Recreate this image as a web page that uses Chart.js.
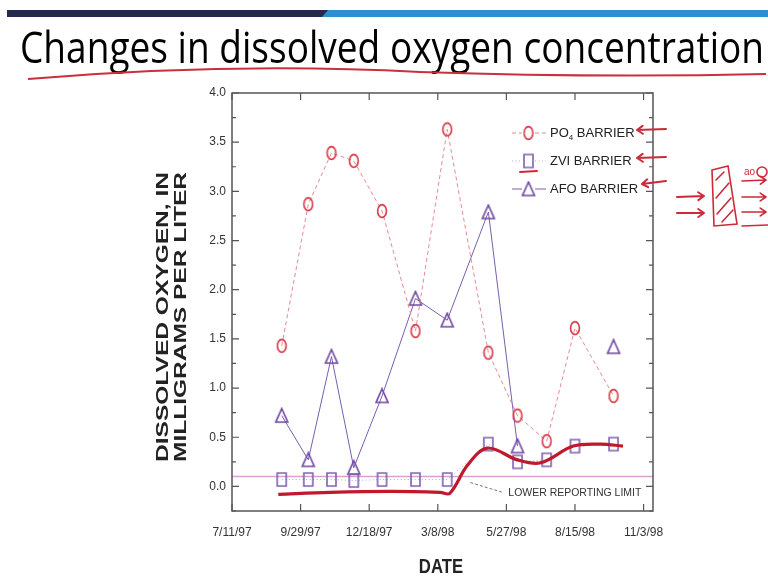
<!DOCTYPE html>
<html><head><meta charset="utf-8">
<script src="https://cdn.jsdelivr.net/npm/chart.js@4.4.0/dist/chart.umd.min.js"></script>
<style>html,body{margin:0;padding:0;background:#fff;}#wrap{width:768px;height:578px;position:relative;}</style>
</head><body><div id="wrap"><canvas id="c" width="768" height="578"></canvas></div>
<script>
// ---- data ----
const sampleDates = ['1997-09-07','1997-10-08','1997-11-04','1997-11-30','1998-01-02','1998-02-10','1998-03-19','1998-05-06','1998-06-09','1998-07-13','1998-08-15','1998-09-29'];
const po4Values = [1.43, 2.87, 3.39, 3.31, 2.80, 1.58, 3.63, 1.36, 0.72, 0.46, 1.61, 0.92];
const zviValues = [0.07, 0.07, 0.07, 0.06, 0.07, 0.07, 0.07, 0.43, 0.25, 0.27, 0.41, 0.43];
// AFO has no sample plotted on 1998-07-13, so its line breaks there
const afoDates = ['1997-09-07','1997-10-08','1997-11-04','1997-11-30','1998-01-02','1998-02-10','1998-03-19','1998-05-06','1998-06-09','1998-07-13','1998-09-29'];
const afoValues = [0.72, 0.27, 1.32, 0.19, 0.92, 1.91, 1.69, 2.79, 0.41, null, 1.42];
const lowerReportingLimit = 0.1;
const xTickLabels = ['7/11/97','9/29/97','12/18/97','3/8/98','5/27/98','8/15/98','11/3/98'];
const xAxisEnd = '1998-11-14';
const yMin = -0.25, yMax = 4.0, yStep = 0.5;
// hand-drawn red annotation tracing the ZVI series
const annotationDates = ['1997-09-03','1997-11-02','1998-01-12','1998-03-11','1998-03-22','1998-04-12','1998-05-05','1998-06-09','1998-07-06','1998-08-13','1998-09-14','1998-10-10'];
const annotationValues = [-0.08, -0.06, -0.05, -0.06, -0.07, 0.22, 0.39, 0.27, 0.24, 0.41, 0.43, 0.41];

// ---- helpers ----
function utc(s){
  if (s.indexOf('/') >= 0){ const [m,d,y] = s.split('/').map(Number); return Date.UTC(1900+y, m-1, d); }
  const [y,m,d] = s.split('-').map(Number); return Date.UTC(y, m-1, d);
}
const origin = utc(xTickLabels[0]);
const dayOf = s => Math.round((utc(s) - origin) / 86400000);
const pts = (dates, vals) => dates.map((d,i) => ({x: dayOf(d), y: vals[i]}));

const RED = '#d83a47', RED_LINE = '#e58b93', PURPLE = '#6d45a0', PURPLE_SQ = '#8060b0', PURPLE_DOT = '#b8a4d6';
function makeMarker(kind, color){
  const c = document.createElement('canvas');
  let w, h;
  if (kind === 'circle'){ w = 12; h = 16; } else if (kind === 'square'){ w = 13; h = 17; } else { w = 16; h = 17; }
  c.width = w; c.height = h;
  const g = c.getContext('2d'); g.strokeStyle = color; g.lineWidth = 1.6; g.beginPath();
  if (kind === 'circle') g.ellipse(w/2, h/2, 4.4, 6.4, 0, 0, Math.PI*2);
  else if (kind === 'square') g.rect(2, 2, 9, 13);
  else { g.moveTo(w/2, 1.5); g.lineTo(w-2, h-2); g.lineTo(2, h-2); g.closePath(); }
  g.stroke();
  return c;
}
const mkCircle = makeMarker('circle', RED), mkSquare = makeMarker('square', PURPLE_SQ), mkTri = makeMarker('tri', PURPLE);

const decorPlugin = {
  id: 'decor',
  beforeDraw(chart){
    const ctx = chart.ctx; ctx.save();
    ctx.fillStyle = '#fff'; ctx.fillRect(0, 0, chart.width, chart.height);
    // header bar
    ctx.fillStyle = '#2e8fd0'; ctx.fillRect(318, 10, 450, 7);
    ctx.fillStyle = '#262850'; ctx.beginPath(); ctx.moveTo(7,10); ctx.lineTo(328,10); ctx.lineTo(322,17); ctx.lineTo(7,17); ctx.closePath(); ctx.fill();
    // slide title
    ctx.fillStyle = '#000'; ctx.font = '44px "Open Sans", "Liberation Sans", sans-serif'; ctx.textBaseline = 'alphabetic'; ctx.textAlign = 'left';
    ctx.fillText('Changes in dissolved oxygen concentration', 20, 63, 744);
    // red handwritten underline
    ctx.strokeStyle = '#c8303e'; ctx.lineWidth = 2; ctx.beginPath();
    ctx.moveTo(28, 79); ctx.quadraticCurveTo(230, 62, 420, 72); ctx.quadraticCurveTo(600, 78, 766, 74); ctx.stroke();
    // y title
    ctx.fillStyle = '#222'; ctx.font = 'bold 17px "Liberation Sans", Arial, sans-serif'; ctx.textAlign = 'center'; ctx.textBaseline = 'middle';
    [['DISSOLVED OXYGEN, IN', 163], ['MILLIGRAMS PER LITER', 181]].forEach(([t, x]) => {
      ctx.save(); ctx.translate(x, 317); ctx.rotate(-Math.PI/2);
      const w = ctx.measureText(t).width; ctx.scale(290 / w, 1); ctx.fillText(t, 0, 0); ctx.restore();
    });
    // x title
    ctx.save(); ctx.font = 'bold 19px "Liberation Sans", Arial, sans-serif'; ctx.textBaseline = 'alphabetic'; ctx.textAlign = 'center';
    ctx.translate(441, 573); ctx.scale(0.88, 1.08); ctx.fillText('DATE', 0, 0); ctx.restore();
    ctx.restore();
  },
  beforeDatasetsDraw(chart){
    const ctx = chart.ctx, a = chart.chartArea, y = chart.scales.y, x = chart.scales.x;
    const py = y.getPixelForValue(lowerReportingLimit);
    ctx.save(); ctx.strokeStyle = '#d9a0d2'; ctx.lineWidth = 1.5;
    ctx.beginPath(); ctx.moveTo(a.left, py); ctx.lineTo(a.right, py); ctx.stroke();
    // leader + label
    const lx = x.getPixelForValue(dayOf('1998-04-15'));
    ctx.strokeStyle = '#777'; ctx.lineWidth = 1; ctx.setLineDash([3,2]);
    ctx.beginPath(); ctx.moveTo(lx, py + 6); ctx.lineTo(lx + 33, py + 16); ctx.stroke(); ctx.setLineDash([]);
    ctx.fillStyle = '#333'; ctx.font = '11.5px "Liberation Sans", Arial, sans-serif'; ctx.textBaseline = 'middle'; ctx.textAlign = 'left';
    ctx.fillText('LOWER REPORTING LIMIT', lx + 38, py + 16, 133);
    ctx.restore();
  },
  afterDraw(chart){
    const ctx = chart.ctx, a = chart.chartArea, xs = chart.scales.x, ys = chart.scales.y;
    ctx.save();
    ctx.strokeStyle = '#555'; ctx.lineWidth = 1.5;
    ctx.strokeRect(a.left, a.top, a.right - a.left, a.bottom - a.top);
    ctx.lineWidth = 1.2; ctx.beginPath();
    xs.ticks.forEach(t => { const p = xs.getPixelForValue(t.value);
      ctx.moveTo(p, a.bottom); ctx.lineTo(p, a.bottom - 7); ctx.moveTo(p, a.top); ctx.lineTo(p, a.top + 7); });
    const yt = ys.ticks.map(t => t.value);
    const marks = [];
    yt.forEach((v, i) => { marks.push([v, 7]); if (i > 0) marks.push([(v + yt[i-1]) / 2, 4]); });
    if (yt.length) marks.push([yt[0] - (yt[1] - yt[0]) / 2, 4]);
    marks.forEach(([v, len]) => { if (v < ys.min - 1e-9 || v > ys.max + 1e-9) return; const p = ys.getPixelForValue(v);
      ctx.moveTo(a.left, p); ctx.lineTo(a.left + len, p); ctx.moveTo(a.right, p); ctx.lineTo(a.right - len, p); });
    ctx.stroke();
    // legend
    const rows = [
      {y: 133, color: RED_LINE, dash: [4,3], mk: mkCircle, label: ['PO', '4', ' BARRIER']},
      {y: 161, color: PURPLE_DOT, dash: [1,2.5], mk: mkSquare, label: ['ZVI BARRIER']},
      {y: 189, color: '#7a5fb0', dash: [], mk: mkTri, label: ['AFO BARRIER']}
    ];
    ctx.font = '13px "Liberation Sans", Arial, sans-serif'; ctx.textBaseline = 'middle'; ctx.textAlign = 'left';
    rows.forEach(r => {
      ctx.strokeStyle = r.color; ctx.lineWidth = 1; ctx.setLineDash(r.dash);
      ctx.beginPath(); ctx.moveTo(512, r.y); ctx.lineTo(522, r.y); ctx.moveTo(535, r.y); ctx.lineTo(546, r.y); ctx.stroke(); ctx.setLineDash([]);
      ctx.drawImage(r.mk, 528.5 - r.mk.width/2, r.y - r.mk.height/2);
      ctx.fillStyle = '#222';
      let x = 550;
      if (r.label.length === 3){
        ctx.fillText(r.label[0], x, r.y); x += ctx.measureText(r.label[0]).width;
        ctx.font = '8px "Liberation Sans", Arial, sans-serif'; ctx.fillText(r.label[1], x, r.y + 5); x += ctx.measureText(r.label[1]).width;
        ctx.font = '13px "Liberation Sans", Arial, sans-serif'; ctx.fillText(r.label[2], x, r.y);
      } else ctx.fillText(r.label[0], x, r.y);
    });
    // red handwritten arrows and doodles
    ctx.strokeStyle = '#cc2a3a'; ctx.lineWidth = 2; ctx.lineCap = 'round';
    const arrow = (x1, y1, x2, y2) => { ctx.beginPath(); ctx.moveTo(x1, y1); ctx.lineTo(x2, y2);
      const ang = Math.atan2(y2 - y1, x2 - x1);
      ctx.moveTo(x2, y2); ctx.lineTo(x2 - 7*Math.cos(ang - 0.6), y2 - 7*Math.sin(ang - 0.6));
      ctx.moveTo(x2, y2); ctx.lineTo(x2 - 7*Math.cos(ang + 0.6), y2 - 7*Math.sin(ang + 0.6)); ctx.stroke(); };
    arrow(666, 129, 637, 130); arrow(666, 157, 637, 158); arrow(666, 181, 642, 184);
    ctx.beginPath(); ctx.moveTo(520, 172); ctx.lineTo(537, 171); ctx.stroke();
    arrow(677, 197, 704, 196); arrow(677, 213, 704, 213);
    ctx.lineWidth = 1.6; ctx.beginPath();
    ctx.moveTo(712, 170); ctx.lineTo(728, 166); ctx.lineTo(737, 224); ctx.lineTo(714, 226); ctx.closePath(); ctx.stroke();
    ctx.beginPath(); ctx.moveTo(716, 180); ctx.lineTo(724, 172); ctx.moveTo(716, 198); ctx.lineTo(729, 183);
    ctx.moveTo(717, 214); ctx.lineTo(731, 198); ctx.moveTo(722, 222); ctx.lineTo(733, 210); ctx.stroke();
    arrow(742, 181, 766, 180); arrow(742, 197, 766, 197); arrow(742, 212, 766, 212);
    ctx.beginPath(); ctx.moveTo(742, 226); ctx.lineTo(768, 225); ctx.stroke();
    ctx.font = '10px "Liberation Sans", Arial, sans-serif'; ctx.fillStyle = '#cc2a3a'; ctx.fillText('ao', 744, 172);
    ctx.beginPath(); ctx.arc(762, 172, 5, 0, Math.PI*2); ctx.stroke();
    ctx.restore();
  }
};

new Chart(document.getElementById('c'), {
  type: 'line',
  data: {
    datasets: [
      {label: 'annotation', data: pts(annotationDates, annotationValues), borderColor: '#c0182c', borderWidth: 3.2, pointRadius: 0, tension: 0.35, fill: false},
      {label: 'PO4 BARRIER', data: pts(sampleDates, po4Values), borderColor: RED_LINE, borderWidth: 1, borderDash: [4,3], pointStyle: mkCircle, pointRadius: 6, fill: false, tension: 0},
      {label: 'ZVI BARRIER', data: pts(sampleDates, zviValues), borderColor: PURPLE_DOT, borderWidth: 1, borderDash: [1,2.5], pointStyle: mkSquare, pointRadius: 6, fill: false, tension: 0},
      {label: 'AFO BARRIER', data: pts(afoDates, afoValues), borderColor: '#7a5fb0', borderWidth: 1, pointStyle: mkTri, pointRadius: 6, fill: false, tension: 0, spanGaps: false}
    ]
  },
  options: {
    responsive: false, animation: false, devicePixelRatio: 1,
    layout: {padding: {left: 172, top: 93, right: 115, bottom: 0}},
    plugins: {legend: {display: false}, tooltip: {enabled: false}},
    scales: {
      x: {
        type: 'linear', min: 0, max: dayOf(xAxisEnd),
        afterBuildTicks: s => { s.ticks = xTickLabels.map(l => ({value: dayOf(l)})); },
        afterFit: s => { s.height = 67; },
        grid: {display: false, drawTicks: false}, border: {display: false},
        ticks: {padding: 14, autoSkip: false, maxRotation: 0, color: '#333', font: {family: '"Liberation Sans", Arial, sans-serif', size: 12},
          callback: v => { const i = xTickLabels.findIndex(l => dayOf(l) === v); return i >= 0 ? xTickLabels[i] : ''; }}
      },
      y: {
        min: yMin, max: yMax,
        ticks: {stepSize: yStep, padding: 6, color: '#333', font: {family: '"Liberation Sans", Arial, sans-serif', size: 12}, callback: v => Number(v).toFixed(1)},
        afterBuildTicks: s => { s.ticks = s.ticks.filter(t => Math.abs(t.value / yStep - Math.round(t.value / yStep)) < 1e-6); },
        afterFit: s => { s.width = 60; },
        grid: {display: false, drawTicks: false}, border: {display: false}
      }
    }
  },
  plugins: [decorPlugin]
});
</script>
</body></html>
